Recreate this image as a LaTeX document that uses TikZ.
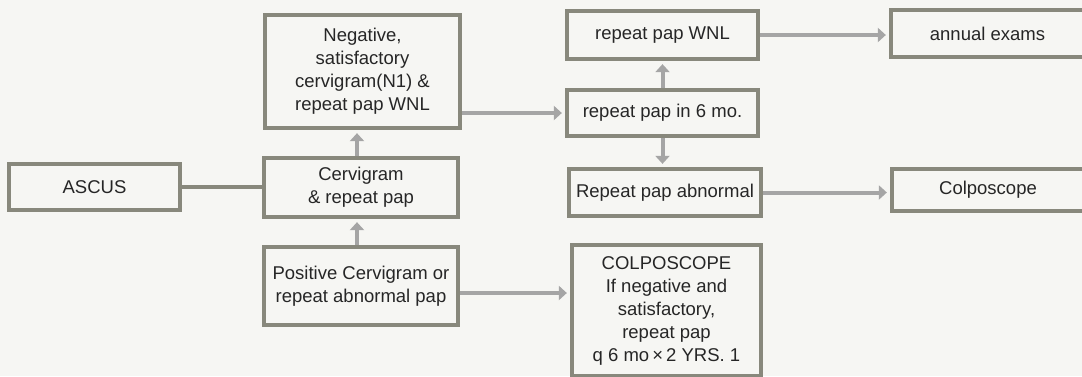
\documentclass[tikz,border=0pt]{standalone}
\usepackage{fontspec}
\setmainfont{Liberation Sans}
\usetikzlibrary{arrows.meta}
\definecolor{boxgray}{RGB}{136,136,124}
\definecolor{arrgray}{RGB}{165,165,165}
\definecolor{paper}{RGB}{246,246,243}
\definecolor{ink}{RGB}{38,38,38}
\begin{document}
\begin{tikzpicture}[x=1pt,y=-1pt,
	stepbox/.style={draw=boxgray,line width=3.8pt,inner sep=0pt,align=center,text=ink,
		font=\fontsize{18.5}{23}\selectfont},
	flow/.style={draw=arrgray,line width=4pt,-{Triangle[length=8pt,width=14pt]},shorten >=3pt}]
	\fill[paper] (0,0) rectangle (1082,376);
	\clip (0,0) rectangle (1082,376);
	\node[stepbox,minimum width=171.5,minimum height=46.5] (ascus) at (94.5,187) {ASCUS};
	\node[stepbox,minimum width=194.5,minimum height=59.5] (cerv) at (361,187.5) {Cervigram\\\& repeat pap};
	\node[stepbox,minimum width=195.5,minimum height=113.5] (neg) at (362.5,71.5)
		{Negative,\\satisfactory\\cervigram(N1) \&\\repeat pap WNL};
	\node[stepbox,minimum width=194.5,minimum height=78.5] (pos) at (361,286)
		{Positive Cervigram or\\repeat abnormal pap};
	\node[stepbox,minimum width=191.5,minimum height=48.5] (wnl) at (662.5,35) {repeat pap WNL};
	\node[stepbox,minimum width=191.5,minimum height=46.5] (six) at (662.5,113) {repeat pap in 6 mo.};
	\node[stepbox,minimum width=192.5,minimum height=47.5] (abn) at (665,192.5) {Repeat pap abnormal};
	\node[stepbox,minimum width=189.5,minimum height=131.5] (colpo) at (666.5,310.5)
		{COLPOSCOPE\\If negative and\\satisfactory,\\repeat pap\\q 6 mo\,×\,2 YRS. 1};
	\node[stepbox,minimum width=193.5,minimum height=47.5] (annual) at (987.5,33.5) {annual exams};
	\node[stepbox,minimum width=192.5,minimum height=42.5] (colpos) at (988,190) {Colposcope};
	\draw[boxgray,line width=3.8pt] (ascus) -- (ascus -| cerv.west);
	\draw[flow] ([xshift=-4pt]cerv.north) -- ([xshift=-4pt]cerv.north |- neg.south);
	\draw[flow] ([xshift=-4pt]pos.north) -- ([xshift=-4pt]cerv.south);
	\draw[flow] (neg.east |- six.west) -- (six.west);
	\coordinate (pc) at ([yshift=-7pt]pos.east);
	\draw[flow] (pc) -- (pc -| colpo.west);
	\draw[flow] (six.north) -- (wnl.south);
	\draw[flow] (six.south) -- (six.south |- abn.north);
	\draw[flow] (wnl.east) -- (wnl.east -| annual.west);
	\draw[flow] (abn.east) -- (abn.east -| colpos.west);
\end{tikzpicture}
\end{document}
